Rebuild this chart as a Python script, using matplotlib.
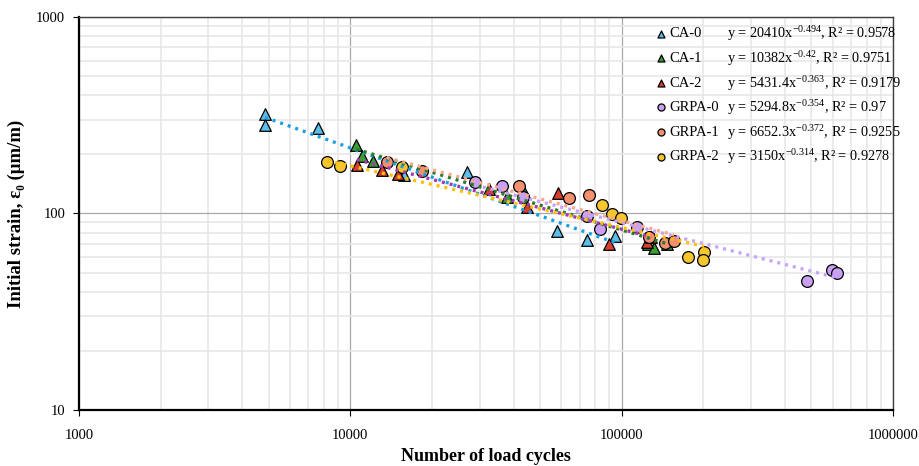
import numpy as np
import matplotlib
matplotlib.use("Agg")
import matplotlib.pyplot as plt
from matplotlib.ticker import FixedLocator, NullFormatter, FuncFormatter

plt.rcParams['font.family'] = ['Liberation Serif', 'DejaVu Serif']
plt.rcParams['mathtext.fontset'] = 'custom'
plt.rcParams['mathtext.rm'] = 'Liberation Serif'
plt.rcParams['mathtext.default'] = 'regular'
plt.rcParams['axes.unicode_minus'] = False

# load cycles / initial strain (um/m) per mix
ca0_n = [4850, 4850, 7600, 15780, 27000, 57950, 74300, 94600]
ca0_e = [321, 282, 272, 157, 163, 81.5, 73.3, 76.8]
ca1_n = [10500, 11020, 12160, 37900, 43660, 124800, 132000, 146700]
ca1_e = [223, 196, 185, 122, 129, 70, 66.5, 70]
ca2_n = [10560, 13120, 15030, 32370, 44700, 58440, 90100, 123700, 128300]
ca2_e = [176, 166, 159, 134, 107.5, 127, 69.7, 71.9, 75.7]
grpa0_n = [28820, 36310, 43420, 74300, 83250, 113700, 481000, 594700, 622400]
grpa0_e = [145, 138.5, 121, 97.4, 83.1, 85, 45.5, 51.6, 49.8]
grpa1_n = [13620, 18330, 41980, 64150, 76000, 126500, 144600, 156000]
grpa1_e = [183.5, 164.6, 138.5, 119.5, 124.6, 76.1, 71, 72.7]
grpa2_n = [8230, 9160, 15550, 84900, 92400, 99200, 175700, 201200, 199000]
grpa2_e = [183, 174, 172, 111, 99, 94.5, 60.3, 63.9, 58]

# power-law fits y = a * x^b and R^2
fit_a = [20410, 10382, 5431.4, 5294.8, 6652.3, 3150]
fit_b = [-0.494, -0.42, -0.363, -0.354, -0.372, -0.314]
fit_a_txt = ['20410', '10382', '5431.4', '5294.8', '6652.3', '3150']
fit_b_txt = ['-0.494', '-0.42', '-0.363', '-0.354', '-0.372', '-0.314']
fit_r2 = ['0.9578', '0.9751', '0.9179', '0.97', '0.9255', '0.9278']

names = ['CA-0', 'CA-1', 'CA-2', 'GRPA-0', 'GRPA-1', 'GRPA-2']
xs = [ca0_n, ca1_n, ca2_n, grpa0_n, grpa1_n, grpa2_n]
ys = [ca0_e, ca1_e, ca2_e, grpa0_e, grpa1_e, grpa2_e]
markers = ['^', '^', '^', 'o', 'o', 'o']
fills = ['#5BBDE8', '#3A9E35', '#D6402E', '#C9A0F2', '#F2906F', '#F6C62E']
trend_cols = ['#1C9FE0', '#2A7A2A', '#A23BB0', '#C8A2FA', '#F7A88C', '#FFC000']

fig = plt.figure(figsize=(9.19, 4.66), dpi=100)
ax = fig.add_axes([0.086, 0.1202, 0.8857, 0.8433])
ax.set_xscale('log')
ax.set_yscale('log')
ax.set_xlim(1000, 1000000)
ax.set_ylim(10, 1000)

for i in range(len(names)):
    ax.scatter(xs[i], ys[i], marker=markers[i], s=72 if markers[i] == 'o' else 70,
               facecolor=fills[i], edgecolor='black', linewidth=0.9,
               zorder=3, label=names[i])

# trendlines over each series' own range
for i in range(len(names)):
    xx = np.logspace(np.log10(min(xs[i])), np.log10(max(xs[i])), 60)
    ax.plot(xx, fit_a[i] * xx ** fit_b[i], color=trend_cols[i], lw=2.4,
            linestyle=(0, (0.9, 1.5)), zorder=4)

ax.xaxis.set_minor_locator(FixedLocator([m * 10 ** k for k in range(3, 6) for m in range(2, 10)]))
ax.yaxis.set_minor_locator(FixedLocator([m * 10 ** k for k in range(1, 3) for m in range(2, 10)]))
ax.xaxis.set_minor_formatter(NullFormatter())
ax.yaxis.set_minor_formatter(NullFormatter())
ax.xaxis.set_major_formatter(FuncFormatter(lambda v, p: '%d' % v))
ax.yaxis.set_major_formatter(FuncFormatter(lambda v, p: '%d' % v))
ax.grid(which='minor', color='#E6E6E6', lw=1.1, zorder=0)
ax.grid(which='major', color='#A8A8A8', lw=0.9, zorder=0)
ax.set_axisbelow(True)
ax.tick_params(which='minor', length=0)
ax.tick_params(which='major', length=4, width=0.8, labelsize=10.5, pad=6)
ax.tick_params(axis='x', pad=10)

for s in ['left', 'bottom']:
    ax.spines[s].set_linewidth(1.6)
    ax.spines[s].set_color('black')
for s in ['top', 'right']:
    ax.spines[s].set_linewidth(1.0)
    ax.spines[s].set_color('#404040')

ax.set_xlabel('Number of load cycles', fontsize=13, fontweight='bold', labelpad=4)
ax.set_ylabel('Initial strain, ε₀ (μm/m)', fontsize=13.5, fontweight='bold', labelpad=8)

leg = ax.legend(loc='upper left', bbox_to_anchor=(0.694, 1.0), frameon=False,
                fontsize=10.5, handletextpad=0.05, labelspacing=0.78,
                borderaxespad=0.3, handlelength=1.0, markerscale=0.6)

# equation text on the same rows as the legend labels
fig.canvas.draw()
inv = ax.transAxes.inverted()
x_eq = (727 - 79) / 814.0
for i, t in enumerate(leg.get_texts()):
    bb = t.get_window_extent()
    yc = inv.transform(((bb.x0 + bb.x1) / 2, (bb.y0 + bb.y1) / 2))[1]
    eq = 'y = %sx$^{%s}$, R² = %s' % (fit_a_txt[i], fit_b_txt[i], fit_r2[i])
    ax.text(x_eq, yc, eq, transform=ax.transAxes, fontsize=10.3,
            ha='left', va='center')

fig.savefig('out.png', dpi=100)
